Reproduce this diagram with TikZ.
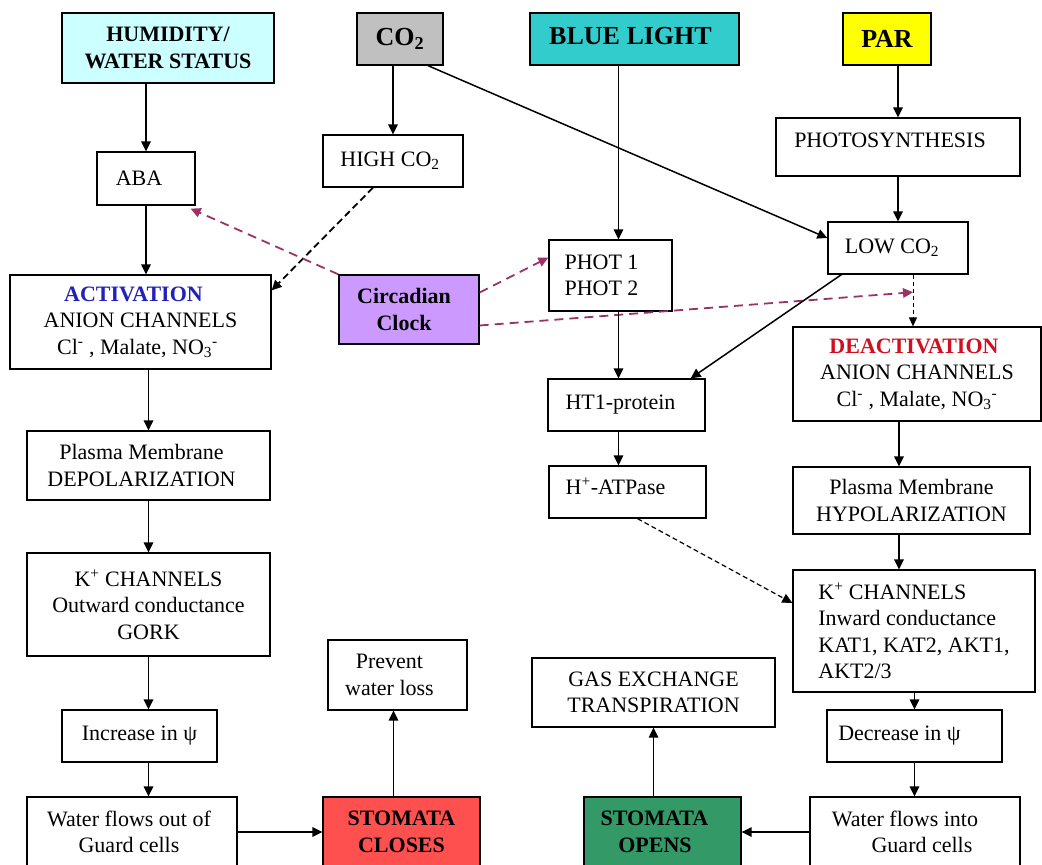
\documentclass[tikz,border=0pt]{standalone}
\usepackage{fontspec}
\setmainfont{Liberation Serif}
\usetikzlibrary{arrows.meta,calc}
\definecolor{humc}{HTML}{CCFFFF}
\definecolor{co2c}{HTML}{C0C0C0}
\definecolor{bluec}{HTML}{33CCCC}
\definecolor{parc}{HTML}{FFFF00}
\definecolor{clkc}{HTML}{CC99FF}
\definecolor{closec}{HTML}{FF5050}
\definecolor{openc}{HTML}{339966}
\definecolor{actc}{HTML}{2222BB}
\definecolor{deactc}{HTML}{D01020}
\definecolor{purp}{HTML}{993366}
\newcommand\padr[1]{\hspace*{#1pt}}
\begin{document}
\begin{tikzpicture}[x=1pt,y=-1pt,
  box/.style={draw=black, line width=1.3pt, inner sep=0pt, align=center, fill=white,
    font=\fontsize{22}{26.5}\selectfont},
  bbox/.style={box, font=\fontsize{22}{26.5}\selectfont\bfseries},
  tbox/.style={box, font=\fontsize{26}{30}\selectfont\bfseries},
  arr/.style={-{Triangle[length=10pt,width=9.5pt]}, line width=1.5pt},
  kdash/.style={arr, line width=1.8pt, dash pattern=on 7pt off 4pt},
  cdash/.style={arr, draw=purp, line width=1.8pt, dash pattern=on 9pt off 6pt},
  fdash/.style={-{Triangle[length=9pt,width=8pt]}, line width=1pt, dash pattern=on 4pt off 3pt},
  hdash/.style={arr, line width=1.2pt, dash pattern=on 5pt off 3pt}]
\useasboundingbox (0,0) rectangle (1042,865);
\clip (0,0) rectangle (1042,865);
\fill[white] (0,0) rectangle (1042,865);

% top row
\node[bbox, fill=humc, minimum width=212, minimum height=70] (hum) at (168,48) {HUMIDITY/\\WATER STATUS};
\node[tbox, fill=co2c, minimum width=86, minimum height=52] (co2) at (400,39) {CO\textsubscript{2}};
\node[tbox, fill=bluec, minimum width=209, minimum height=52, text depth=7pt] (blue) at (634.5,39) {BLUE LIGHT\padr{8}};
\node[tbox, fill=parc, minimum width=88, minimum height=52] (par) at (887,39) {PAR};

% second level
\node[box, minimum width=98, minimum height=53] (aba) at (146,178.5) {ABA\padr{14}};
\node[box, minimum width=140, minimum height=52] (high) at (393,161) {HIGH CO\textsubscript{2}\padr{6}};
\node[box, minimum width=244, minimum height=58, text depth=14pt] (photo) at (898,147) {PHOTOSYNTHESIS\padr{16}};
\node[box, minimum width=140, minimum height=52] (low) at (898,248) {LOW CO\textsubscript{2}\padr{12}};
\node[box, minimum width=123, minimum height=71, align=left] (phot) at (610.5,275.5) {PHOT 1\\PHOT 2\padr{18}};
\node[bbox, fill=clkc, minimum width=140, minimum height=69] (circ) at (409,309.5) {Circadian\padr{10}\\Clock\padr{10}};
\node[box, minimum width=261, minimum height=94] (act) at (140.5,322) {{\bfseries\color{actc}ACTIVATION}\padr{14}\\ANION CHANNELS\\Cl\textsuperscript{-} , Malate, NO\textsubscript{3}\textsuperscript{-}\padr{6}};
\node[box, minimum width=157, minimum height=52] (ht1) at (626.5,405) {HT1-protein\padr{12}};
\node[box, minimum width=248, minimum height=94] (deact) at (917,374) {{\bfseries\color{deactc}DEACTIVATION}\padr{6}\\ANION CHANNELS\\Cl\textsuperscript{-} , Malate, NO\textsubscript{3}\textsuperscript{-}};

% middle
\node[box, minimum width=243, minimum height=69] (dep) at (148.5,465.5) {Plasma Membrane\padr{14}\\DEPOLARIZATION\padr{14}};
\node[box, minimum width=157, minimum height=52, text depth=12pt] (hatp) at (627.5,492) {H\textsuperscript{+}-ATPase\padr{24}};
\node[box, minimum width=237, minimum height=67] (hyp) at (911.5,500.5) {Plasma Membrane\\HYPOLARIZATION};
\node[box, minimum width=243, minimum height=103] (kout) at (148.5,604.5) {K\textsuperscript{+} CHANNELS\\Outward conductance\\GORK};
\node[box, minimum width=242, minimum height=122, align=left] (kin) at (914,631) {K\textsuperscript{+} CHANNELS\\Inward conductance\\KAT1, KAT2, AKT1,\padr{10}\\AKT2/3};

% lower
\node[box, minimum width=139, minimum height=70] (prev) at (397.5,675) {Prevent\padr{16}\\water loss\padr{16}};
\node[box, minimum width=243, minimum height=69] (gas) at (653.5,692.5) {GAS EXCHANGE\\TRANSPIRATION};
\node[box, minimum width=155, minimum height=52] (inc) at (139.5,736) {Increase in ψ};
\node[box, minimum width=175, minimum height=52] (dec) at (914.5,736) {Decrease in ψ\padr{30}};

% bottom row
\node[box, minimum width=210, minimum height=70] (wout) at (132,832) {Water flows out of\padr{6}\\Guard cells\padr{6}};
\node[bbox, fill=closec, minimum width=157, minimum height=70] (close) at (401.5,832) {STOMATA\\CLOSES};
\node[bbox, fill=openc, minimum width=157, minimum height=70, align=left] (open) at (662.5,832) {STOMATA\padr{16}\\\hspace{0.8em}OPENS};
\node[box, minimum width=210, minimum height=70] (win) at (915,832) {Water flows into\padr{20}\\\padr{14}Guard cells};

% connectors
\draw[arr] (aba.north |- hum.south) -- (aba.north);
\draw[arr] (high.north |- co2.south) -- (high.north);
\draw[arr] ([xshift=28]co2.south) -- ([yshift=10]low.west);
\draw[arr] ([xshift=8]phot.north |- blue.south) -- ([xshift=8]phot.north);
\draw[arr] (photo.north |- par.south) -- (photo.north);
\draw[arr] (photo.south) -- (low.north);
\draw[arr] (aba.south) -- (aba.south |- act.north);
\draw[kdash] ([xshift=-20]high.south) -- ([yshift=-16]act.north east);
\draw[cdash] (circ.north west) -- ([xshift=-5,yshift=-3]aba.south east);
\draw[cdash] ([yshift=17]circ.east) -- ([yshift=18]phot.west);
\coordinate (ls) at ([xshift=15]low.south);
\coordinate (le) at (ls |- deact.north);
\coordinate (lt) at ($(ls)!0.34!(le)$);
\draw[fdash] (ls) -- (le);
\draw[cdash] ([yshift=-16]circ.east) -- (lt);
\draw[arr] ([xshift=14]low.south west) -- ([xshift=-15]ht1.north east);
\draw[arr] ([xshift=8]phot.south) -- ([xshift=8]phot.south |- ht1.north);
\draw[arr] ([xshift=8]phot.south |- ht1.south) -- ([xshift=8]phot.south |- hatp.north);
\draw[arr] (dep.north |- act.south) -- (dep.north);
\draw[arr] (dep.south) -- (kout.north);
\draw[arr] (kout.south) -- (kout.south |- inc.north);
\draw[arr] (kout.south |- inc.south) -- (kout.south |- wout.north);
\draw[arr] (wout.east) -- (close.west);
\draw[arr] ([xshift=-8]close.north) -- ([xshift=-8]close.north |- prev.south);
\draw[arr] ([xshift=-18]deact.south) -- ([xshift=-18]deact.south |- hyp.north);
\draw[arr] ([xshift=-18]deact.south |- hyp.south) -- ([xshift=-18]deact.south |- kin.north);
\draw[arr] (dec.north |- kin.south) -- (dec.north);
\draw[arr] (dec.south) -- (dec.south |- win.north);
\draw[arr] (win.west) -- (open.east);
\draw[arr] (gas.south |- open.north) -- (gas.south);
\draw[hdash] ([xshift=10]hatp.south) -- ([yshift=28]kin.west);
\end{tikzpicture}
\end{document}
